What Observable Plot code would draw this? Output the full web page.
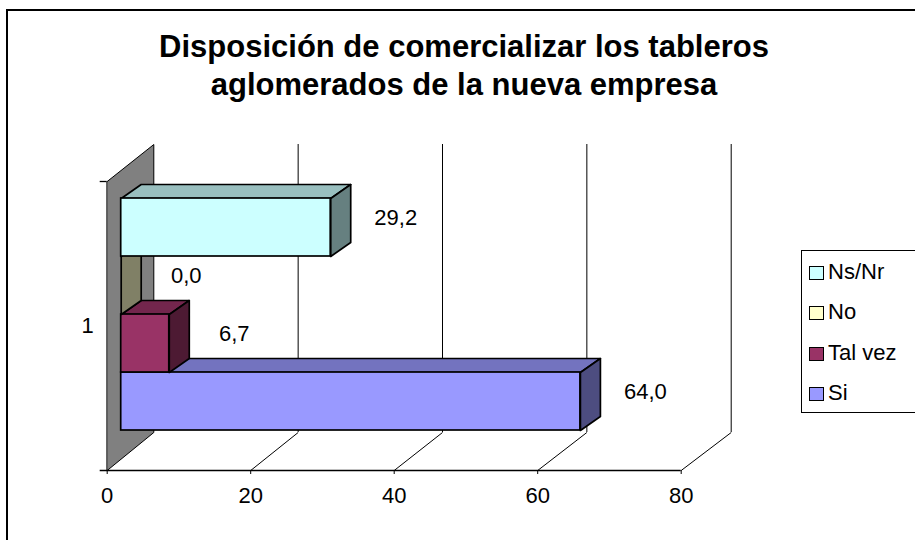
<!DOCTYPE html>
<html>
<head>
<meta charset="utf-8">
<script src="https://cdn.jsdelivr.net/npm/d3@7"></script>
<script src="https://cdn.jsdelivr.net/npm/@observablehq/plot@0.6"></script>
<style>
  html, body { margin: 0; padding: 0; background: #fff; overflow: hidden; }
  #wrap { position: relative; width: 915px; height: 540px; overflow: hidden; font-family: "Liberation Sans", Arial, sans-serif; color: #000; }
  #frame { position: absolute; left: 5.5px; top: 8.5px; width: 1000px; height: 1000px; border: 2px solid #000; box-sizing: border-box; }
  #title { position: absolute; left: 0; top: 27.5px; width: 928px; text-align: center; font-weight: bold; font-size: 31px; line-height: 38px; }
  #chart { position: absolute; left: 0; top: 0; }
  #legend { position: absolute; left: 801px; top: 250px; width: 130px; height: 163px; border: 1px solid #000; box-sizing: border-box; background: #fff; }
  .item { position: absolute; left: 7px; height: 24px; font-size: 22px; line-height: 24px; white-space: nowrap; }
  .sw { position: absolute; left: 0; top: 6px; width: 15px; height: 14px; border: 1.5px solid #000; box-sizing: border-box; }
  .lt { position: absolute; left: 19px; top: 0; }
</style>
</head>
<body>
<div id="wrap">
  <div id="frame"></div>
  <div id="title">Disposición de comercializar los tableros<br>aglomerados de la nueva empresa</div>
  <div id="chart"></div>
  <div id="legend"></div>
</div>
<script>
// ---- data (drawn bottom to top) ----
const series = ["Si", "Tal vez", "No", "Ns/Nr"];
const values = [64.0, 6.7, 0.0, 29.2];
const frontColors = ["#9999FF", "#993366", "#FFFFCC", "#CCFFFF"];
const category = ["1"];
const xTicks = [0, 20, 40, 60, 80];
const legendOrder = ["Ns/Nr", "No", "Tal vez", "Si"];

// ---- layout constants (pixels) ----
const W = 915, H = 540;
const x0px = 106.7, x80px = 680.7, basePx = 470;
const k = 80 / (x80px - x0px);            // value units per pixel
const wallDX = 46.6 * k, wallDY = 38;      // depth of the floor/wall
const backScale = 577.4 / 574;              // slight perspective widening at back
const frontTop = 289, backTop = 326;
const barOff = 14 * k, barDX = 20 * k, barDY = 14;
const barBase = 40, barH = 58;

const back = v => v * backScale + wallDX;
const shade = (c, f) => { const r = d3.rgb(c); return d3.rgb(r.r * f, r.g * f, r.b * f).formatHex(); };
const fmt = v => v.toFixed(1).replace(".", ",");

const marks = [];
// side wall
marks.push(Plot.line([{x: 0, y: 0}, {x: back(0), y: wallDY}, {x: back(0), y: backTop}, {x: 0, y: frontTop}],
  {x: "x", y: "y", fill: "#808080", stroke: "#000", strokeWidth: 1, curve: "linear-closed"}));
// back grid lines
marks.push(Plot.ruleX(xTicks.slice(1), {x: d => back(d), y1: wallDY, y2: backTop, stroke: "#000", strokeWidth: 1}));
// floor diagonals
marks.push(Plot.link(xTicks.slice(1), {x1: d => d, y1: 0, x2: d => back(d), y2: wallDY, stroke: "#000", strokeWidth: 1}));
// front axis line (extends left as the lower category tick)
marks.push(Plot.ruleY([0], {x1: -7 * k, x2: 80, stroke: "#000", strokeWidth: 1.3}));
// upper category tick
marks.push(Plot.ruleY([frontTop], {x1: -7 * k, x2: 0, stroke: "#000", strokeWidth: 1.3}));
// category label
marks.push(Plot.text(category, {x: -19.7 * k, y: frontTop / 2, text: d => d, fontSize: 22, textAnchor: "middle", fill: "#000"}));
marks.push(Plot.axisX({ticks: xTicks, tickSize: 4, tickPadding: 13, fontSize: 22, tickFormat: d => String(d), label: null, stroke: "#000", fill: "#000"}));

// bars
series.forEach((s, i) => {
  const v = values[i];
  const y0 = barBase + i * barH, y1 = y0 + barH;
  const fc = frontColors[i];
  const topPoly = [{x: barOff, y: y1}, {x: barOff + v, y: y1}, {x: barOff + v + barDX, y: y1 + barDY}, {x: barOff + barDX, y: y1 + barDY}];
  const sidePoly = [{x: barOff + v, y: y0}, {x: barOff + v + barDX, y: y0 + barDY}, {x: barOff + v + barDX, y: y1 + barDY}, {x: barOff + v, y: y1}];
  marks.push(Plot.line(topPoly, {x: "x", y: "y", fill: shade(fc, 0.75), stroke: "#000", strokeWidth: 1.7, curve: "linear-closed"}));
  marks.push(Plot.line(sidePoly, {x: "x", y: "y", fill: shade(fc, 0.5), stroke: "#000", strokeWidth: 1.7, curve: "linear-closed"}));
  marks.push(Plot.rect([{s, v}], {x1: barOff, x2: d => barOff + d.v, y1: y0, y2: y1, fill: fc, stroke: "#000", strokeWidth: 1.7}));
});

// value labels
const labelData = series.map((s, i) => ({s, v: values[i], i}));
marks.push(Plot.text(labelData, {
  x: d => barOff + d.v + 65 * k,
  y: d => barBase + d.i * barH + barH / 2 + 10,
  text: d => fmt(d.v), fontSize: 22, textAnchor: "middle", fill: "#000"
}));

const chart = Plot.plot({
  width: W, height: H,
  marginLeft: x0px, marginRight: W - x80px, marginTop: 0, marginBottom: H - basePx,
  x: {domain: [0, 80]},
  y: {domain: [0, basePx], axis: null},
  style: {fontFamily: "'Liberation Sans', Arial, sans-serif", fontSize: "22px", color: "#000", background: "transparent", overflow: "visible"},
  marks
});
document.getElementById("chart").appendChild(chart);

// legend
const lg = document.getElementById("legend");
legendOrder.forEach((name, j) => {
  const idx = series.indexOf(name);
  const it = document.createElement("div");
  it.className = "item";
  it.style.top = (9 + j * 40.3) + "px";
  it.innerHTML = `<span class="sw" style="background:${frontColors[idx]}"></span><span class="lt">${name}</span>`;
  lg.appendChild(it);
});
</script>
</body>
</html>
